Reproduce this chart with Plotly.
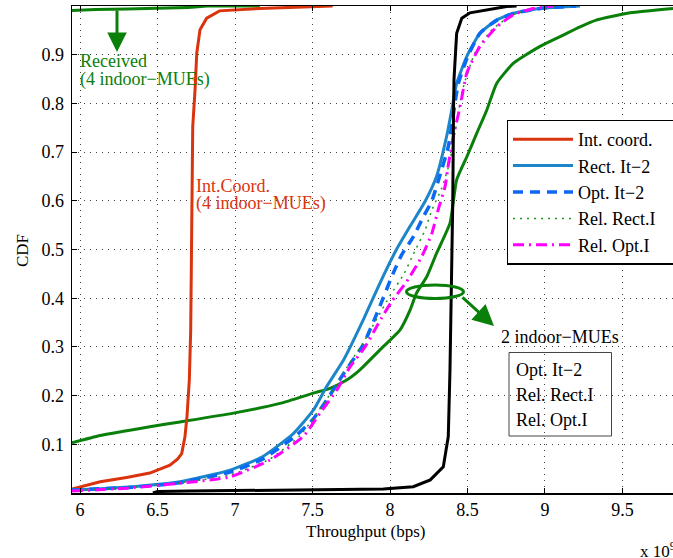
import plotly.graph_objects as go

# ---------------- data (throughput in units of 1e9 bps) ----------------
x_ticks = [6, 6.5, 7, 7.5, 8, 8.5, 9, 9.5]
x_tick_labels = ["6", "6.5", "7", "7.5", "8", "8.5", "9", "9.5"]
y_ticks = [0.1, 0.2, 0.3, 0.4, 0.5, 0.6, 0.7, 0.8, 0.9]
y_tick_labels = ["0.1", "0.2", "0.3", "0.4", "0.5", "0.6", "0.7", "0.8", "0.9"]

# Int. coord. (4 indoor-MUEs)
int_coord_x = [5.948, 6.13, 6.3, 6.45, 6.58, 6.63, 6.656, 6.677, 6.69, 6.705, 6.714, 6.718,
               6.722, 6.727, 6.742, 6.753, 6.774, 6.817, 6.90, 7.16, 7.63]
int_coord_y = [0.008, 0.023, 0.032, 0.041, 0.057, 0.07, 0.081, 0.116, 0.157, 0.232, 0.335, 0.45,
               0.60, 0.752, 0.828, 0.903, 0.951, 0.975, 0.99, 0.995, 1.0]

# Received (4 indoor-MUEs)
recv4_x = [5.948, 6.1, 6.3, 6.5, 6.7, 6.82, 7.16]
recv4_y = [0.991, 0.993, 0.994, 0.995, 0.997, 1.0, 1.0]

# Received (2 indoor-MUEs)
recv2_x = [5.948, 6.13, 6.45, 6.645, 6.99, 7.29, 7.505, 7.613, 7.72, 7.806, 7.935, 8.065, 8.13,
           8.17, 8.237, 8.30, 8.387, 8.43, 8.495, 8.56, 8.624, 8.688, 8.795, 8.968, 9.097, 9.226,
           9.33, 9.55, 9.826]
recv2_y = [0.103, 0.118, 0.136, 0.146, 0.164, 0.184, 0.205, 0.215, 0.232, 0.253, 0.294, 0.335, 0.376,
           0.41, 0.444, 0.492, 0.554, 0.643, 0.69, 0.739, 0.786, 0.841, 0.882, 0.917, 0.937, 0.957,
           0.971, 0.986, 0.995]

# Rect. It-2
rect_x = [5.948, 6.34, 6.645, 6.968, 7.18, 7.376, 7.505, 7.59, 7.70, 7.828, 7.935, 8.04, 8.13,
          8.225, 8.30, 8.365, 8.398, 8.43, 8.495, 8.58, 8.688, 8.795, 8.968, 9.226]
rect_y = [0.006, 0.013, 0.023, 0.047, 0.075, 0.122, 0.17, 0.218, 0.273, 0.356, 0.431, 0.499, 0.548,
          0.598, 0.65, 0.732, 0.786, 0.841, 0.896, 0.944, 0.971, 0.985, 0.995, 1.0]

# Opt. It-2
opt_x = [5.948, 6.34, 6.645, 6.968, 7.18, 7.39, 7.5, 7.6, 7.7, 7.828, 7.925, 8.02, 8.075, 8.15,
         8.215, 8.27, 8.32, 8.376, 8.41, 8.44, 8.50, 8.58, 8.69, 8.80, 8.97, 9.2]
opt_y = [0.006, 0.012, 0.021, 0.043, 0.07, 0.117, 0.15, 0.195, 0.245, 0.305, 0.376, 0.451, 0.489,
         0.526, 0.567, 0.60, 0.65, 0.711, 0.78, 0.84, 0.895, 0.944, 0.971, 0.985, 0.995, 1.0]

# Rel. Rect.I
relrect_x = [5.948, 6.3, 6.645, 6.968, 7.226, 7.42, 7.53, 7.64, 7.73, 7.83, 7.91, 8.0, 8.09, 8.15,
             8.226, 8.27, 8.334, 8.383, 8.43, 8.47, 8.55, 8.66, 8.78, 8.9, 9.1]
relrect_y = [0.005, 0.011, 0.021, 0.037, 0.07, 0.118, 0.165, 0.215, 0.262, 0.31, 0.355, 0.405, 0.45,
             0.49, 0.54, 0.581, 0.626, 0.677, 0.76, 0.83, 0.905, 0.952, 0.98, 0.994, 1.0]

# Rel. Opt.I
relopt_x = [5.948, 6.3, 6.645, 6.968, 7.226, 7.44, 7.548, 7.656, 7.742, 7.839, 7.925, 8.01, 8.107,
            8.204, 8.27, 8.31, 8.355, 8.376, 8.41, 8.452, 8.495, 8.58, 8.688, 8.795, 8.925, 9.05]
relopt_y = [0.004, 0.01, 0.02, 0.033, 0.068, 0.116, 0.164, 0.211, 0.259, 0.30, 0.348, 0.393, 0.434,
            0.485, 0.533, 0.581, 0.629, 0.673, 0.735, 0.793, 0.862, 0.917, 0.957, 0.982, 0.995, 1.0]

# black curve (not in legend)
black_x = [6.47, 6.5, 6.7, 7.0, 7.5, 7.957, 8.15, 8.26, 8.344, 8.376, 8.387, 8.398, 8.405, 8.41,
           8.413, 8.43, 8.463, 8.516, 8.645, 8.753, 8.817]
black_y = [0.0, 0.003, 0.004, 0.005, 0.006, 0.008, 0.013, 0.027, 0.054, 0.116, 0.253, 0.45, 0.6, 0.79,
           0.85, 0.944, 0.975, 0.986, 0.993, 0.999, 1.0]

# ---------------- styling ----------------
FONT = "Liberation Serif, Times New Roman, serif"
RED = "rgb(218,52,14)"
LBLUE = "rgb(28,134,200)"
BLUE = "rgb(10,105,245)"
DGREEN = "rgb(10,128,10)"
LGREEN = "rgb(30,150,30)"
MAG = "rgb(255,0,255)"

SM = dict(shape="spline", smoothing=0.5)

fig = go.Figure()
fig.add_trace(go.Scatter(x=recv2_x, y=recv2_y, mode="lines", showlegend=False,
                         line=dict(color=DGREEN, width=3, **SM)))
fig.add_trace(go.Scatter(x=recv4_x, y=recv4_y, mode="lines", showlegend=False,
                         line=dict(color=DGREEN, width=3)))
fig.add_trace(go.Scatter(x=int_coord_x, y=int_coord_y, mode="lines", name="Int. coord.",
                         line=dict(color=RED, width=3)))
fig.add_trace(go.Scatter(x=rect_x, y=rect_y, mode="lines", name="Rect. It\u22122",
                         line=dict(color=LBLUE, width=3, **SM)))
fig.add_trace(go.Scatter(x=opt_x, y=opt_y, mode="lines", name="Opt. It\u22122",
                         line=dict(color=BLUE, width=3.5, dash="10px,7px", **SM)))
fig.add_trace(go.Scatter(x=relrect_x, y=relrect_y, mode="lines",
                         name="Rel. Rect.I\u00a0\u00a0\u00a0\u00a0",
                         line=dict(color=LGREEN, width=1.5, dash="2px,5px", **SM)))
fig.add_trace(go.Scatter(x=relopt_x, y=relopt_y, mode="lines", name="Rel. Opt.I",
                         line=dict(color=MAG, width=3, dash="11px,5px,2px,5px", **SM)))
fig.add_trace(go.Scatter(x=black_x, y=black_y, mode="lines", showlegend=False,
                         line=dict(color="black", width=3)))

L, T, R, B = 72, 6, 673, 493
W, H = 673, 558
XR = [5.948, 9.826]


def dx(px):
    return XR[0] + (px - L) / (R - L) * (XR[1] - XR[0])


def dy(py):
    return (B - py) / (B - T)


annotations = []


def txt(s, px, py, color="black", size=18, xanchor="left"):
    annotations.append(dict(text=s, x=dx(px), y=dy(py), xref="x", yref="y", showarrow=False,
                            xanchor=xanchor, yanchor="middle",
                            font=dict(family=FONT, size=size, color=color)))


txt("Received", 78, 61, DGREEN)
txt("(4 indoor\u2212MUEs)", 78, 79, DGREEN)
txt("Int.Coord.", 194, 186, RED)
txt("(4 indoor\u2212MUEs)", 194, 203, RED)
txt("2 indoor\u2212MUEs", 499, 336.5)
txt("Opt. It\u22122", 514, 370)
txt("Rel. Rect.I", 514, 395)
txt("Rel. Opt.I", 514, 420)

# arrows
annotations.append(dict(text="", x=dx(117), y=dy(52), ax=dx(117), ay=dy(9), xref="x", yref="y",
                        axref="x", ayref="y", showarrow=True, arrowhead=2, arrowsize=1.3,
                        arrowwidth=3, arrowcolor=DGREEN, standoff=0))
annotations.append(dict(text="", x=dx(494), y=dy(326), ax=dx(461), ay=dy(296), xref="x", yref="y",
                        axref="x", ayref="y", showarrow=True, arrowhead=2, arrowsize=1.4,
                        arrowwidth=3, arrowcolor=DGREEN, standoff=0))

# axis titles and exponent
annotations.append(dict(text="Throughput (bps)", x=(365 - L) / (R - L), y=-(531 - B) / (B - T),
                        xref="paper", yref="paper", showarrow=False, xanchor="center",
                        yanchor="middle", font=dict(family=FONT, size=17, color="black")))
annotations.append(dict(text="CDF", x=-(L - 22) / (R - L), y=(B - 251) / (B - T), xref="paper",
                        yref="paper", showarrow=False, textangle=-90, xanchor="center",
                        yanchor="middle", font=dict(family=FONT, size=17, color="black")))
annotations.append(dict(text="x 10<sup>9</sup>", x=(638 - L) / (R - L), y=-(550 - B) / (B - T),
                        xref="paper", yref="paper", showarrow=False, xanchor="left",
                        yanchor="middle", font=dict(family=FONT, size=17, color="black")))

shapes = [
    dict(type="circle", xref="x", yref="y", x0=dx(406.5), x1=dx(463.5), y0=dy(298.5), y1=dy(285),
         line=dict(color=DGREEN, width=3)),
    dict(type="rect", xref="x", yref="y", x0=dx(509), x1=dx(611.5), y0=dy(436), y1=dy(352.5),
         line=dict(color="#444444", width=1)),
]

axis_common = dict(showgrid=True, gridcolor="rgba(0,0,0,0.75)", gridwidth=1, griddash="1px,5px",
                   zeroline=False, showline=True, linecolor="black", linewidth=1.5,
                   ticks="inside", ticklen=5, tickcolor="black", tickwidth=1,
                   tickfont=dict(family=FONT, size=18, color="black"))

fig.update_layout(
    width=W, height=H,
    margin=dict(l=L, r=W - R, t=T, b=H - B, autoexpand=False),
    paper_bgcolor="white", plot_bgcolor="white",
    xaxis=dict(range=XR, tickvals=x_ticks, ticktext=x_tick_labels, mirror="ticks", **axis_common),
    yaxis=dict(range=[0, 1], tickvals=y_ticks, ticktext=y_tick_labels, mirror=False,
               ticklabelstandoff=3, **axis_common),
    legend=dict(x=(506.5 - L) / (R - L), y=(B - 119.5) / (B - T), xanchor="left", yanchor="top",
                bgcolor="white", bordercolor="black", borderwidth=1.5, itemwidth=60,
                font=dict(family=FONT, size=18, color="black"), tracegroupgap=0),
    annotations=annotations,
    shapes=shapes,
    showlegend=True,
)

fig.write_html("out.html", config={"displayModeBar": False, "staticPlot": True},
               post_script="document.body.style.margin='0';document.body.style.overflow='hidden';")
